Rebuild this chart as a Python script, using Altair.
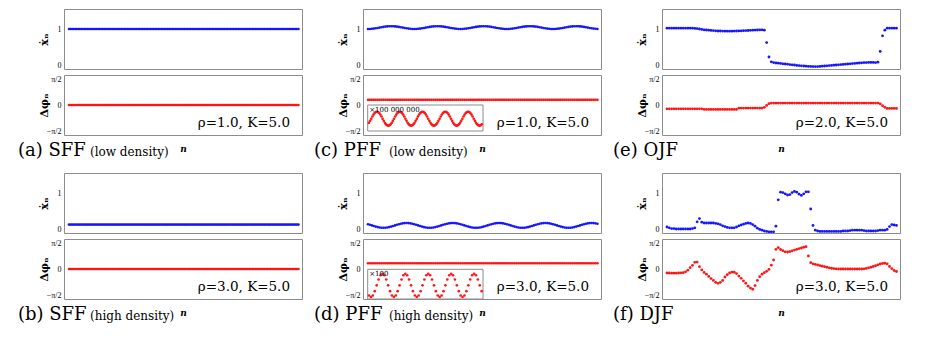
import math
import altair as alt
import pandas as pd

# ---------------- data ----------------
a_vel = [1.0] * 150
a_phase = [0.0] * 150
b_vel = [0.21] * 150
b_phase = [0.0] * 150

c_vel = [
    1.000, 1.001, 1.005, 1.010, 1.018, 1.026, 1.035, 1.044, 1.053, 1.060, 1.065, 1.069, 1.070, 1.069, 1.065, 1.060, 1.053, 1.044, 1.035, 1.026, 1.018, 1.010, 1.005, 1.001,
    1.000, 1.001, 1.005, 1.010, 1.018, 1.026, 1.035, 1.044, 1.053, 1.060, 1.065, 1.069, 1.070, 1.069, 1.065, 1.060, 1.053, 1.044, 1.035, 1.026, 1.018, 1.010, 1.005, 1.001,
    1.000, 1.001, 1.005, 1.010, 1.018, 1.026, 1.035, 1.044, 1.053, 1.060, 1.065, 1.069, 1.070, 1.069, 1.065, 1.060, 1.053, 1.044, 1.035, 1.026, 1.018, 1.010, 1.005, 1.001,
    1.000, 1.001, 1.005, 1.010, 1.018, 1.026, 1.035, 1.044, 1.053, 1.060, 1.065, 1.069, 1.070, 1.069, 1.065, 1.060, 1.053, 1.044, 1.035, 1.026, 1.018, 1.010, 1.005, 1.001,
    1.000, 1.001, 1.005, 1.010, 1.018, 1.026, 1.035, 1.044, 1.053, 1.060, 1.065, 1.069, 1.070, 1.069, 1.065, 1.060, 1.053, 1.044, 1.035, 1.026, 1.018, 1.010, 1.005, 1.001,
]
c_phase = [0.27] * 120
c_inset = [
    -0.59, -0.31, 0.00, 0.31, 0.59, 0.81, 0.95, 1.00, 0.95, 0.81, 0.59, 0.31, 0.00, -0.31, -0.59, -0.81, -0.95, -1.00, -0.95, -0.81,
    -0.59, -0.31, 0.00, 0.31, 0.59, 0.81, 0.95, 1.00, 0.95, 0.81, 0.59, 0.31, 0.00, -0.31, -0.59, -0.81, -0.95, -1.00, -0.95, -0.81,
    -0.59, -0.31, 0.00, 0.31, 0.59, 0.81, 0.95, 1.00, 0.95, 0.81, 0.59, 0.31, 0.00, -0.31, -0.59, -0.81, -0.95, -1.00, -0.95, -0.81,
    -0.59, -0.31, 0.00, 0.31, 0.59, 0.81, 0.95, 1.00, 0.95, 0.81, 0.59, 0.31, 0.00, -0.31, -0.59, -0.81, -0.95, -1.00, -0.95, -0.81,
    -0.59, -0.31, 0.00, 0.31, 0.59, 0.81, 0.95, 1.00, 0.95, 0.81, 0.59, 0.31, 0.00, -0.31, -0.59, -0.81, -0.95, -1.00, -0.95, -0.81,
]

d_vel = [
    0.220, 0.206, 0.190, 0.174, 0.160, 0.148, 0.138, 0.132, 0.130, 0.132, 0.138, 0.148, 0.160, 0.174, 0.190, 0.206, 0.220, 0.232, 0.242, 0.248, 0.250, 0.248, 0.242, 0.232,
    0.220, 0.206, 0.190, 0.174, 0.160, 0.148, 0.138, 0.132, 0.130, 0.132, 0.138, 0.148, 0.160, 0.174, 0.190, 0.206, 0.220, 0.232, 0.242, 0.248, 0.250, 0.248, 0.242, 0.232,
    0.220, 0.206, 0.190, 0.174, 0.160, 0.148, 0.138, 0.132, 0.130, 0.132, 0.138, 0.148, 0.160, 0.174, 0.190, 0.206, 0.220, 0.232, 0.242, 0.248, 0.250, 0.248, 0.242, 0.232,
    0.220, 0.206, 0.190, 0.174, 0.160, 0.148, 0.138, 0.132, 0.130, 0.132, 0.138, 0.148, 0.160, 0.174, 0.190, 0.206, 0.220, 0.232, 0.242, 0.248, 0.250, 0.248, 0.242, 0.232,
    0.220, 0.206, 0.190, 0.174, 0.160, 0.148, 0.138, 0.132, 0.130, 0.132, 0.138, 0.148, 0.160, 0.174, 0.190, 0.206, 0.220, 0.232, 0.242, 0.248, 0.250, 0.248, 0.242, 0.232,
]
d_phase = [0.30] * 120
d_inset = [
    -0.87, -1.00, -0.87, -0.50, 0.00, 0.50, 0.87, 1.00, 0.87, 0.50, 0.00, -0.50,
    -0.87, -1.00, -0.87, -0.50, 0.00, 0.50, 0.87, 1.00, 0.87, 0.50, 0.00, -0.50,
    -0.87, -1.00, -0.87, -0.50, 0.00, 0.50, 0.87, 1.00, 0.87, 0.50, 0.00, -0.50,
    -0.87, -1.00, -0.87, -0.50, 0.00, 0.50, 0.87, 1.00, 0.87, 0.50, 0.00, -0.50,
    -0.87, -1.00, -0.87, -0.50, 0.00, 0.50, 0.87, 1.00, 0.87, 0.50, 0.00, -0.50,
]

e_vel = [
    1.02, 1.02, 1.02, 1.02, 1.02, 1.02, 1.02, 1.02, 1.02, 1.02, 1.02, 1.02,
    1.015, 1.01, 1.00, 0.99, 0.98, 0.975, 0.97, 0.965, 0.96, 0.955, 0.95, 0.95,
    0.948, 0.945, 0.945, 0.945, 0.945, 0.948, 0.95, 0.952, 0.955, 0.958, 0.96, 0.963,
    0.966, 0.97, 0.972, 0.975, 0.978, 0.98, 0.97, 0.66, 0.30, 0.18, 0.16, 0.15,
    0.145, 0.14, 0.13, 0.125, 0.12, 0.11, 0.105, 0.10, 0.09, 0.085, 0.08, 0.075,
    0.07, 0.065, 0.065, 0.06, 0.06, 0.06, 0.065, 0.07, 0.075, 0.08, 0.085, 0.09,
    0.095, 0.10, 0.105, 0.11, 0.115, 0.12, 0.125, 0.13, 0.135, 0.14, 0.145, 0.15,
    0.155, 0.16, 0.16, 0.165, 0.165, 0.165, 0.16, 0.17, 0.44, 0.83, 0.97, 1.02,
    1.02, 1.02, 1.02, 1.02,
]
e_phase = [
    -0.20, -0.20, -0.20, -0.20, -0.20, -0.20, -0.20, -0.20, -0.20, -0.20, -0.20, -0.20, -0.20, -0.20, -0.20, -0.20,
    -0.23, -0.23, -0.23, -0.23, -0.23, -0.23, -0.23, -0.23, -0.23, -0.23, -0.23, -0.23, -0.23, -0.23, -0.23,
    -0.16, -0.16, -0.16, -0.16, -0.16, -0.16, -0.16, -0.16, -0.16, -0.16, -0.16,
    -0.12, -0.02, 0.07,
    0.10, 0.10, 0.10, 0.10, 0.10, 0.10, 0.10, 0.10, 0.10, 0.10, 0.10, 0.10, 0.10, 0.10, 0.10, 0.10,
    0.10, 0.10, 0.10, 0.10, 0.10, 0.10, 0.10, 0.10, 0.10, 0.10, 0.10, 0.10, 0.10, 0.10, 0.10, 0.10,
    0.10, 0.10, 0.10, 0.10, 0.10, 0.10, 0.10, 0.10, 0.10, 0.10, 0.10, 0.10, 0.10, 0.10, 0.10,
    0.06, -0.04, -0.12,
    -0.18, -0.18, -0.18, -0.18, -0.18,
]

f_vel = [
    0.15, 0.13, 0.11, 0.11, 0.10, 0.10, 0.10, 0.10, 0.10, 0.10, 0.10, 0.11,
    0.13, 0.28, 0.36, 0.27, 0.25, 0.25, 0.25, 0.25, 0.25, 0.24, 0.23, 0.21,
    0.18, 0.16, 0.14, 0.13, 0.13, 0.13, 0.15, 0.18, 0.20, 0.22, 0.24, 0.25,
    0.24, 0.21, 0.17, 0.12, 0.09, 0.07, 0.05, 0.04, 0.03, 0.03, 0.03, 0.17,
    0.83, 1.02, 1.01, 0.98, 0.95, 0.96, 1.01, 1.04, 1.02, 0.97, 0.94, 0.98,
    1.03, 1.03, 0.60, 0.19, 0.07,
    0.05, 0.04, 0.04, 0.04, 0.04, 0.04, 0.04, 0.04, 0.04, 0.04, 0.04, 0.05, 0.05, 0.05, 0.06,
    0.07, 0.07, 0.07, 0.07, 0.07, 0.06,
    0.05, 0.05, 0.05, 0.05, 0.05, 0.06,
    0.07, 0.07, 0.07, 0.09,
    0.16, 0.21, 0.20, 0.19,
]
f_phase = [
    -0.21, -0.21, -0.22, -0.22, -0.22, -0.21, -0.20, -0.19,
    -0.15, -0.06, 0.07, 0.19, 0.35, 0.36, 0.12, -0.05, -0.18, -0.27, -0.39, -0.50,
    -0.60, -0.70, -0.75, -0.70, -0.60, -0.42, -0.30, -0.21, -0.16, -0.17, -0.24, -0.37,
    -0.49, -0.62, -0.74, -0.90, -1.00, -1.06, -0.87, -0.60, -0.40, -0.27, -0.19, -0.12,
    -0.02, 0.20, 0.47, 1.03, 1.12, 1.02, 0.96, 0.90, 0.89, 0.91, 0.95, 0.99,
    1.03, 1.07, 1.10, 1.14, 1.17, 0.68, 0.33, 0.27, 0.24, 0.21, 0.18, 0.15,
    0.12, 0.09, 0.06, 0.04, 0.02, 0.01,
    0.00, 0.00, 0.00, 0.00, 0.00, 0.00, 0.00, 0.00, 0.00, 0.00, 0.00,
    0.01, 0.03, 0.06, 0.09, 0.13, 0.17, 0.22, 0.26, 0.29, 0.30, 0.27, 0.13, 0.02, -0.08, -0.13,
]

param_texts = ["ρ=1.0, K=5.0", "ρ=3.0, K=5.0", "ρ=1.0, K=5.0", "ρ=3.0, K=5.0", "ρ=2.0, K=5.0", "ρ=3.0, K=5.0"]
captions = ["(a) SFF", "(b) SFF", "(c) PFF", "(d) PFF", "(e) OJF", "(f) DJF"]
sub_captions = ["(low density)", "(high density)", "(low density)", "(high density)", "", ""]
inset_labels = ["×100 000 000", "×100"]

# ---------------- styling / layout ----------------
W, H = 238, 60
BLUE, RED, FRAME = "#1515ff", "#ff1515", "#8c8c8c"
SERIF = "DejaVu Serif"
HP = math.pi / 2


def n_domain(count):
    span = count - 1
    total = span / 0.964
    return [-0.021 * total, span + 0.015 * total]


def series_df(vals):
    return pd.DataFrame({"n": list(range(len(vals))), "v": vals})


def text_layer(txt, x, y, size, align="left", opacity=1.0):
    return alt.Chart(pd.DataFrame({"t": [txt]})).mark_text(
        align=align, baseline="alphabetic", font=SERIF, fontSize=size,
        color="black", opacity=opacity
    ).encode(x=alt.value(x), y=alt.value(y), text="t:N")


def top_chart(vals, size, cap, cap_x):
    pts = alt.Chart(series_df(vals)).mark_circle(size=size, color=BLUE, opacity=1).encode(
        x=alt.X("n:Q", scale=alt.Scale(domain=n_domain(len(vals)), nice=False, zero=False), axis=None),
        y=alt.Y("v:Q", scale=alt.Scale(domain=[0, 1.5], nice=False, zero=False),
                axis=alt.Axis(values=[0, 1], title="ẋₙ", labelFlush=True,
                              titleX=-20, titleY=H / 2, titleAngle=270,
                              titleAlign="center", titleBaseline="middle")),
    )
    # invisible copy of the caption keeps the left extent equal to the lower panel
    ghost = text_layer(cap, cap_x, 30, 18, opacity=0)
    return alt.layer(pts, ghost).properties(width=W, height=H)


def bottom_chart(vals, size, param, cap, sub, cap_x, inset=None):
    base = alt.Chart(series_df(vals)).mark_circle(size=size, color=RED, opacity=1).encode(
        x=alt.X("n:Q", scale=alt.Scale(domain=n_domain(len(vals)), nice=False, zero=False),
                axis=alt.Axis(title="n", labels=False, titleY=16, titleBaseline="alphabetic",
                              titleFontStyle="italic", titleFontSize=9)),
        y=alt.Y("v:Q", scale=alt.Scale(domain=[-HP, HP], nice=False, zero=False),
                axis=alt.Axis(values=[-HP, 0, HP], title="Δφₙ", labelFlush=True,
                              labelExpr="datum.value > 0.5 ? 'π/2' : (datum.value < -0.5 ? '−π/2' : '0')",
                              titleX=-20, titleY=H / 2, titleAngle=270,
                              titleAlign="center", titleBaseline="middle")),
    )
    layers = [base]
    if inset is not None:
        ivals, xdom, xrng, ydom, yrng, label = inset
        xs = alt.Scale(domain=xdom, range=xrng, nice=False, zero=False)
        ys = alt.Scale(domain=ydom, range=yrng, nice=False, zero=False)
        frame_df = pd.DataFrame({"x0": [xdom[0]], "x1": [xdom[1]], "y0": [ydom[0]], "y1": [ydom[1]]})
        frame = alt.Chart(frame_df).mark_rect(fill="white", stroke=FRAME, strokeWidth=1).encode(
            x=alt.X("x0:Q", scale=xs, axis=None), x2="x1:Q",
            y=alt.Y("y0:Q", scale=ys, axis=None), y2="y1:Q")
        pts = alt.Chart(series_df(ivals)).mark_circle(size=size, color=RED, opacity=1).encode(
            x=alt.X("n:Q", scale=xs, axis=None), y=alt.Y("v:Q", scale=ys, axis=None))
        layers += [frame, pts, text_layer(label, xrng[0] + 1.5, yrng[1] + 6.5, 7)]
    layers.append(text_layer(param, W - 12, 52, 13.5, align="right"))
    layers.append(text_layer(cap, cap_x, H + 21, 18))
    if sub:
        layers.append(text_layer(sub, 26, H + 21, 12))
    ch = alt.layer(*layers).properties(width=W, height=H)
    if inset is not None:
        ch = ch.resolve_scale(x="independent", y="independent")
    return ch


def panel(top_vals, bot_vals, size, idx, cap_x, inset=None):
    return alt.vconcat(
        top_chart(top_vals, size, captions[idx], cap_x),
        bottom_chart(bot_vals, size, param_texts[idx], captions[idx], sub_captions[idx], cap_x, inset),
        spacing=4,
    )


inset_c = (c_inset, [-1.1, 100.1], [4.7, 120], [-1.76, 1.96], [56, 30], inset_labels[0])
inset_d = (d_inset, [-0.7, 59.7], [4.7, 120], [-1.17, 1.38], [60, 30.3], inset_labels[1])

col1 = alt.vconcat(panel(a_vel, a_phase, 7, 0, -46), panel(b_vel, b_phase, 7, 1, -46), spacing=11)
col2 = alt.vconcat(panel(c_vel, c_phase, 7, 2, -49, inset_c), panel(d_vel, d_phase, 7, 3, -49, inset_d), spacing=11)
col3 = alt.vconcat(panel(e_vel, e_phase, 8, 4, -49), panel(f_vel, f_phase, 8, 5, -49), spacing=11)

chart = alt.hconcat(col1, col2, col3, spacing=10).properties(
    padding={"left": 9, "top": 0, "right": 2, "bottom": 2}
).configure_view(
    stroke=FRAME, strokeWidth=1
).configure_axis(
    grid=False, domain=False, ticks=False, tickSize=0, labelPadding=3,
    labelFont="Liberation Serif", labelFontSize=8, labelColor="black",
    titleFont=SERIF, titleFontWeight="bold", titleFontSize=11, titleColor="black",
)

chart.save("out.html", embed_options={"renderer": "svg", "actions": False})
